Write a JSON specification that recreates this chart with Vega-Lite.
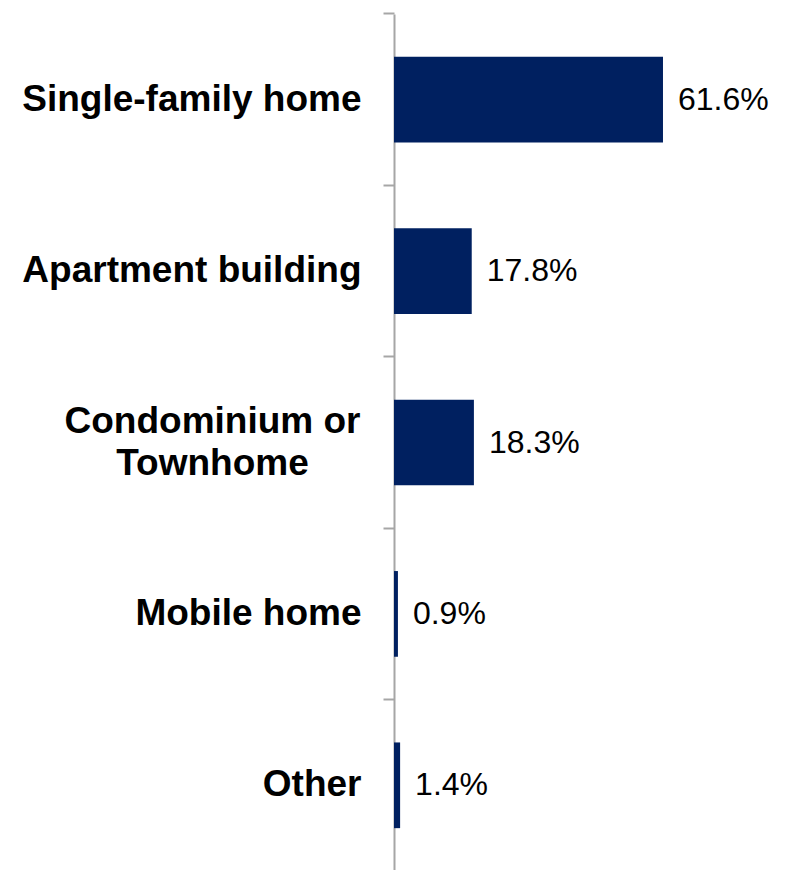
{
  "$schema": "https://vega.github.io/schema/vega-lite/v6.json",
  "width": 393,
  "height": 857,
  "autosize": "none",
  "padding": {"left": 394, "top": 14, "right": 2, "bottom": 0},
  "background": "white",
  "config": {"view": {"stroke": null}},
  "data": {
    "values": [
      {"type": "Single-family home", "share": 0.616},
      {"type": "Apartment building", "share": 0.178},
      {"type": "Condominium or Townhome", "share": 0.183},
      {"type": "Mobile home", "share": 0.009},
      {"type": "Other", "share": 0.014}
    ]
  },
  "resolve": {"axis": {"y": "independent"}},
  "layer": [
    {
      "mark": {"type": "bar", "color": "#002060"},
      "encoding": {
        "y": {
          "field": "type", "type": "nominal", "sort": null,
          "scale": {"paddingInner": 0.5, "paddingOuter": 0.25},
          "axis": {
            "orient": "left", "title": null, "labels": false,
            "bandPosition": -0.5, "tickSize": 11, "tickWidth": 2, "tickColor": "#a6a6a6",
            "domainColor": "#a6a6a6", "domainWidth": 2
          }
        },
        "x": {
          "field": "share", "type": "quantitative",
          "scale": {"domain": [0, 0.9], "nice": false},
          "axis": null
        }
      }
    },
    {
      "mark": {"type": "text", "align": "left", "baseline": "middle", "dx": 15, "font": "Liberation Sans", "fontSize": 32, "color": "black"},
      "encoding": {
        "y": {
          "field": "type", "type": "nominal", "sort": null,
          "axis": {
            "orient": "left", "title": null, "ticks": false, "tickSize": 0, "domain": false,
            "labelFont": "Liberation Sans", "labelFontWeight": "bold",
            "labelFontSize": 37, "labelColor": "black", "labelLimit": 0, "labelLineHeight": 42,
            "labelAlign": {"condition": {"test": "datum.value == 'Condominium or Townhome'", "value": "center"}, "value": "right"},
            "labelPadding": {"condition": {"test": "datum.value == 'Condominium or Townhome'", "value": 182}, "value": 33},
            "labelOffset": {"condition": {"test": "datum.value == 'Condominium or Townhome'", "value": -21}, "value": 0},
            "labelExpr": "datum.value == 'Condominium or Townhome' ? ['Condominium or', 'Townhome'] : datum.value"
          }
        },
        "x": {"field": "share", "type": "quantitative"},
        "text": {"field": "share", "type": "quantitative", "format": ".1%"}
      }
    }
  ]
}
